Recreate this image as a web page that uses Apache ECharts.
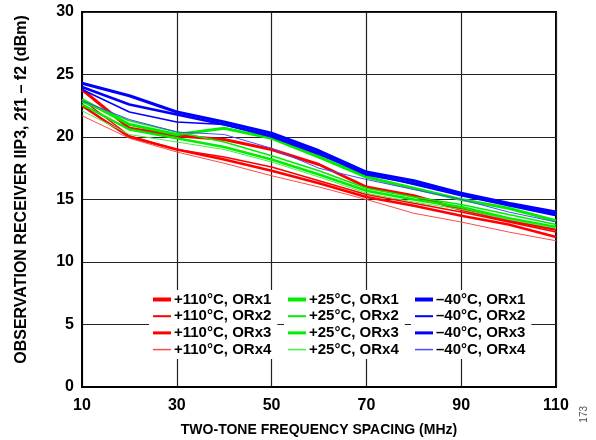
<!DOCTYPE html>
<html>
<head>
<meta charset="utf-8">
<script src="https://cdn.jsdelivr.net/npm/echarts@6/dist/echarts.min.js"></script>
<style>
  html, body { margin: 0; padding: 0; background: #fff; }
  #chart { width: 596px; height: 440px; }
</style>
</head>
<body>
<div id="chart"></div>
<script>
var spacing = [10, 20, 30, 40, 50, 60, 70, 80, 90, 100, 110]

// +110°C
var hot1 = [23.8, 20.7, 20.1, 19.8, 19.0, 17.8, 16.0, 15.3, 14.2, 13.3, 12.6]
var hot2 = [23.0, 20.1, 19.0, 18.4, 17.6, 16.5, 15.4, 14.7, 14.0, 13.2, 12.4]
var hot3 = [22.5, 20.0, 19.0, 18.2, 17.3, 16.3, 15.2, 14.5, 13.7, 13.0, 12.0]
var hot4 = [21.7, 19.9, 18.8, 17.9, 16.9, 16.0, 15.0, 13.9, 13.2, 12.4, 11.7]
// +25°C
var room1 = [23.0, 21.0, 20.2, 20.7, 19.9, 18.4, 16.8, 15.9, 15.0, 14.3, 13.3]
var room2 = [22.8, 21.3, 20.4, 19.6, 18.5, 17.3, 15.9, 15.2, 14.6, 13.8, 13.0]
var room3 = [22.6, 20.6, 19.9, 19.2, 18.2, 17.0, 15.7, 15.0, 14.4, 13.5, 12.8]
var room4 = [22.1, 20.2, 19.6, 19.0, 18.0, 16.8, 15.5, 14.8, 14.2, 13.4, 12.7]
// -40°C
var cold1 = [24.3, 23.3, 22.0, 21.2, 20.3, 18.9, 17.2, 16.5, 15.5, 14.7, 14.0]
var cold2 = [23.8, 22.0, 21.2, 21.0, 20.0, 18.6, 17.1, 16.2, 15.3, 14.5, 13.7]
var cold3 = [24.0, 22.6, 21.8, 21.0, 20.1, 18.7, 17.0, 16.3, 15.4, 14.6, 13.8]
var cold4 = [22.9, 21.4, 20.4, 20.2, 19.1, 17.5, 16.6, 15.8, 15.0, 14.0, 13.2]

var hotNames = ['+110°C, ORx1', '+110°C, ORx2', '+110°C, ORx3', '+110°C, ORx4']
var roomNames = ['+25°C, ORx1', '+25°C, ORx2', '+25°C, ORx3', '+25°C, ORx4']
var coldNames = ['–40°C, ORx1', '–40°C, ORx2', '–40°C, ORx3', '–40°C, ORx4']

var widths = [3, 1.5, 2.5, 1]
var swatch = [4, 2, 3, 1.5]
var hotColors = ['#ff0000', '#ff0000', '#ff0000', '#ff4a4a']
var roomColors = ['#00ee00', '#00ee00', '#00ee00', '#44f044']
var coldColors = ['#0000ff', '#0000ff', '#0000ff', '#4a4aff']

function pairs (vals) {
  return vals.map(function (v, i) { return [spacing[i], v] })
}

function makeSeries (names, sets, colors) {
  return sets.map(function (vals, i) {
    return {
      name: names[i],
      type: 'line',
      symbol: 'none',
      data: pairs(vals),
      lineStyle: { color: colors[i], width: widths[i] },
      itemStyle: { color: colors[i] }
    }
  })
}

var series = []
  .concat(makeSeries(hotNames, [hot1, hot2, hot3, hot4], hotColors))
  .concat(makeSeries(roomNames, [room1, room2, room3, room4], roomColors))
  .concat(makeSeries(coldNames, [cold1, cold2, cold3, cold4], coldColors))

var labelFont = { color: '#000', fontFamily: 'Liberation Sans, Arial', fontWeight: 'bold' }

function legendCol (names, left) {
  return {
    data: names.map(function (n, i) {
      return { name: n, icon: 'path://M0,0H18V' + swatch[i] + 'H0Z' }
    }),
    orient: 'vertical',
    left: left,
    top: 290,
    itemGap: 1.7,
    itemWidth: 18,
    itemHeight: 14,
    backgroundColor: '#fff',
    padding: [2, 6, 2, 4],
    textStyle: Object.assign({ fontSize: 15, padding: [0, 0, 0, -2] }, labelFont)
  }
}

var chart = echarts.init(document.getElementById('chart'))
chart.setOption({
  animation: false,
  grid: {
    left: 82, right: 40, top: 12, bottom: 53,
    outerBoundsMode: 'none',
    containLabel: false,
    show: true, borderColor: '#000', borderWidth: 2, backgroundColor: 'transparent'
  },
  legend: [
    legendCol(hotNames, 149),
    legendCol(roomNames, 284),
    legendCol(coldNames, 411)
  ],
  xAxis: {
    type: 'value',
    min: 10, max: 110, interval: 20,
    name: 'TWO-TONE FREQUENCY SPACING (MHz)',
    nameLocation: 'middle',
    nameGap: 36,
    nameTextStyle: Object.assign({ fontSize: 14 }, labelFont),
    axisLine: { lineStyle: { color: '#000', width: 2 } },
    axisTick: { show: false },
    axisLabel: Object.assign({ fontSize: 16, margin: 11 }, labelFont),
    splitLine: { lineStyle: { color: '#222', width: 1.2 } }
  },
  yAxis: {
    type: 'value',
    min: 0, max: 30, interval: 5,
    name: 'OBSERVATION RECEIVER IIP3, 2f1 – f2 (dBm)',
    nameLocation: 'middle',
    nameGap: 52,
    nameTextStyle: Object.assign({ fontSize: 16, padding: [0, 0, 0, 20] }, labelFont),
    axisLine: { lineStyle: { color: '#000', width: 2 } },
    axisTick: { show: false },
    axisLabel: Object.assign({ fontSize: 16, margin: 8 }, labelFont),
    splitLine: { lineStyle: { color: '#222', width: 1.2 } }
  },
  graphic: [{
    type: 'text',
    left: 579,
    top: 406,
    rotation: Math.PI / 2,
    style: { text: '173', fill: '#555', font: '10px Liberation Sans, Arial' }
  }],
  series: series
})
</script>
</body>
</html>
